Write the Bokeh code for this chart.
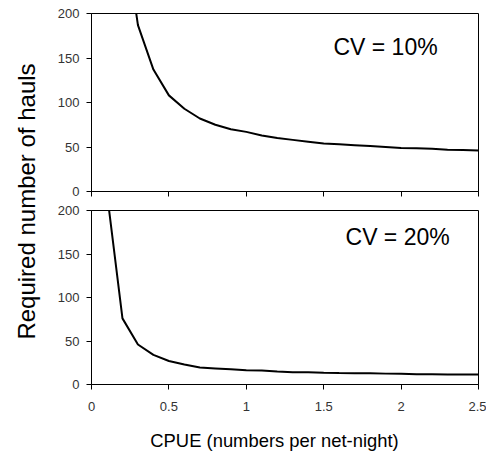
from bokeh.plotting import figure
from bokeh.layouts import row, column
from bokeh.models import Range1d, FixedTicker, NumeralTickFormatter, Label
from bokeh.embed import file_html
from bokeh.resources import INLINE

cpue = [0.1, 0.2, 0.3, 0.4, 0.5, 0.6, 0.7, 0.8, 0.9, 1.0, 1.1, 1.2, 1.3,
        1.4, 1.5, 1.6, 1.7, 1.8, 1.9, 2.0, 2.1, 2.2, 2.3, 2.4, 2.5]
hauls_cv10 = [880, 305, 187, 137, 108, 93, 82, 75, 70, 67, 63, 60, 58,
              56, 54, 53, 52, 51, 50, 49, 48.5, 48, 47, 46.5, 46]
hauls_cv20 = [220, 76, 46, 34, 27, 23, 19.5, 18.5, 17.5, 16.5, 16, 15, 14.2,
              14, 13.5, 13.2, 13, 12.8, 12.5, 12.3, 11.8, 11.7, 11.6, 11.5, 11.5]
x_ticks = [0, 0.5, 1, 1.5, 2, 2.5]
y_ticks = [0, 50, 100, 150, 200]
panel_labels = ["CV = 10%", "CV = 20%"]
x_title = "CPUE (numbers per net-night)"
y_title = "Required number of hauls"

FONT = "Liberation Sans"


def style(p, show_x_labels):
    p.outline_line_color = "black"
    p.outline_line_width = 1
    p.xgrid.visible = False
    p.ygrid.visible = False
    for ax in (p.xaxis[0], p.yaxis[0]):
        ax.axis_line_color = "black"
        ax.major_tick_line_color = "black"
        ax.minor_tick_line_color = None
        ax.major_tick_in = 0
        ax.major_tick_out = 5
        ax.major_label_text_font = FONT
        ax.major_label_text_font_size = "13px"
        ax.major_label_text_color = "#333333"
    p.xaxis.ticker = FixedTicker(ticks=x_ticks)
    p.yaxis.ticker = FixedTicker(ticks=y_ticks)
    p.xaxis.formatter = NumeralTickFormatter(format="0.[0]")
    p.yaxis.major_label_standoff = 7
    if show_x_labels:
        p.xaxis.major_label_standoff = 12
    else:
        p.xaxis.major_label_overrides = {t: "" for t in x_ticks}
        p.xaxis.major_label_text_font_size = "2px"
        p.xaxis.major_label_standoff = 0


def blank(width, height):
    b = figure(width=width, height=height, x_range=Range1d(0, 1), y_range=Range1d(0, 1),
               output_backend="svg", toolbar_location=None,
               min_border_left=0, min_border_right=0, min_border_top=0, min_border_bottom=0)
    b.axis.visible = False
    b.grid.visible = False
    b.outline_line_color = None
    return b


p1 = figure(width=438, height=199, x_range=Range1d(0, 2.5), y_range=Range1d(0, 200),
            output_backend="svg", toolbar_location=None,
            min_border_left=43, min_border_right=8, min_border_top=13, min_border_bottom=8)
style(p1, False)
p1.line(cpue, hauls_cv10, line_color="black", line_width=2)
p1.add_layout(Label(x=1.563, y=161.8, text=panel_labels[0], text_font=FONT,
                    text_font_size="23px", text_align="left", text_baseline="middle",
                    text_color="black"))

p2 = figure(width=438, height=225, x_range=Range1d(0, 2.5), y_range=Range1d(0, 200),
            output_backend="svg", toolbar_location=None,
            min_border_left=43, min_border_right=8, min_border_top=11, min_border_bottom=40)
style(p2, True)
p2.line(cpue, hauls_cv20, line_color="black", line_width=2)
p2.add_layout(Label(x=1.641, y=169.5, text=panel_labels[1], text_font=FONT,
                    text_font_size="23px", text_align="left", text_baseline="middle",
                    text_color="black"))

px = blank(438, 30)
px.add_layout(Label(x=0.152, y=0.467, text=x_title, text_font=FONT,
                    text_font_size="18.4px", text_align="left", text_baseline="middle",
                    text_color="black"))

pl = blank(48, 454)
pl.add_layout(Label(x=0.552, y=(454 - 201) / 454, text=y_title, angle=1.5707963,
                    text_font=FONT, text_font_size="24px", text_align="center",
                    text_baseline="middle", text_color="black"))

layout = row(pl, column(p1, p2, px))
open("out.html", "w").write(file_html(layout, INLINE))
